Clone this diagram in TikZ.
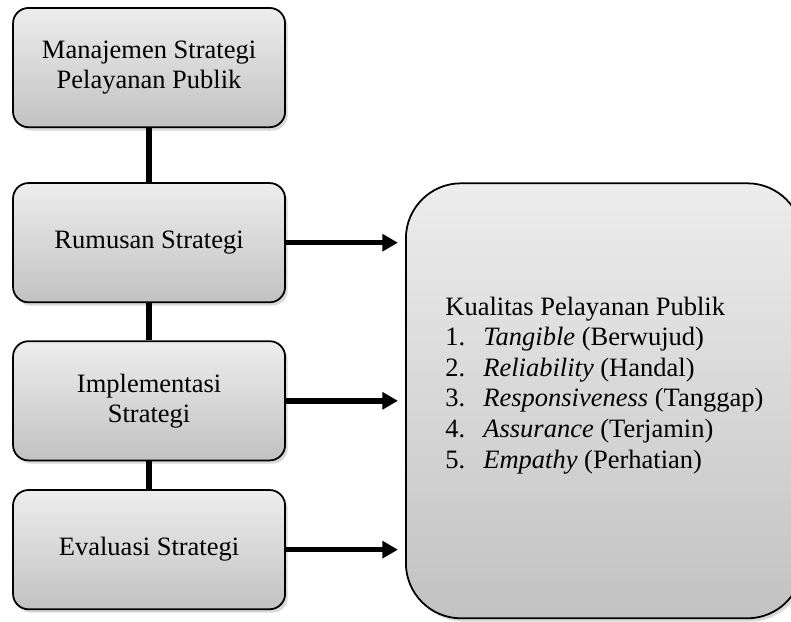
\documentclass[tikz,border=0pt]{standalone}
\usepackage{fontspec}
\setmainfont{Liberation Serif}
\usepackage{tikz}
\usetikzlibrary{positioning,arrows.meta,shadows}

\begin{document}
\begin{tikzpicture}[
  tahap/.style={draw, line width=0.8pt, rounded corners=7pt, align=center,
    minimum width=123.2pt, minimum height=54pt, inner sep=2pt,
    top color=black!7, bottom color=black!24,
    drop shadow={shadow xshift=1.2pt, shadow yshift=-1.5pt, opacity=0.3},
    font=\fontsize{12}{13.6}\selectfont},
  hasil/.style={tahap, rounded corners=25pt, minimum width=179.6pt, minimum height=197pt},
  penghubung/.style={line width=2.7pt},
  panah/.style={->, line width=2.5pt, shorten >=3.2pt},
  >={Triangle[length=7pt,width=7.5pt]}
]
\useasboundingbox (0pt,0pt) rectangle (358.2pt,-281.6pt);
\node[tahap] (manajemen) at (67.5pt,-30.6pt) {Manajemen Strategi\\Pelayanan Publik};
\node[tahap, below=24.5pt of manajemen] (rumusan) {Rumusan Strategi};
\node[tahap, below=16.8pt of rumusan] (implementasi) {Implementasi\\Strategi};
\node[tahap, below=12.6pt of implementasi] (evaluasi) {Evaluasi Strategi};
\node[hasil, right=53.9pt of implementasi] (kualitas) {};
\node[anchor=north west, inner sep=0pt, align=left,
  font=\fontsize{12}{13.85}\selectfont]
  (daftar) at ([xshift=18.1pt, yshift=-51.6pt]kualitas.north west)
  {Kualitas Pelayanan Publik\\
   \makebox[17.2pt][l]{1.}\textit{Tangible} (Berwujud)\\
   \makebox[17.2pt][l]{2.}\textit{Reliability} (Handal)\\
   \makebox[17.2pt][l]{3.}\textit{Responsiveness} (Tanggap)\\
   \makebox[17.2pt][l]{4.}\textit{Assurance} (Terjamin)\\
   \makebox[17.2pt][l]{5.}\textit{Empathy} (Perhatian)};
\draw[penghubung] (manajemen) -- (rumusan);
\draw[penghubung] (rumusan) -- (implementasi);
\draw[penghubung] (implementasi) -- (evaluasi);
\draw[panah] (rumusan.east) -- (rumusan.east -| kualitas.west);
\draw[panah] (implementasi.east) -- (implementasi.east -| kualitas.west);
\draw[panah] (evaluasi.east) -- (evaluasi.east -| kualitas.west);
\end{tikzpicture}
\end{document}
